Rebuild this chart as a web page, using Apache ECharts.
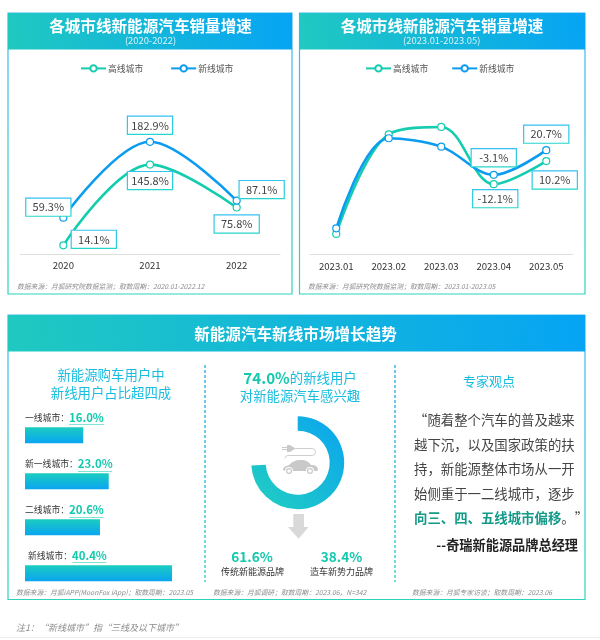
<!DOCTYPE html>
<html>
<head>
<meta charset="utf-8">
<style>
  html, body { margin: 0; padding: 0; background: #fff; }
  #main { width: 600px; height: 640px; }
</style>
<script src="https://cdn.jsdelivr.net/npm/echarts@6/dist/echarts.min.js"></script>
</head>
<body>
<div id="main"></div>
<script>
// yearly growth
var years = ['2020', '2021', '2022'];
var yearHigh = [14.1, 145.8, 75.8];
var yearNew = [59.3, 182.9, 87.1];
// monthly growth, only the last two months are printed in the source
var months = ['2023.01', '2023.02', '2023.03', '2023.04', '2023.05'];
var monthHigh = [-60.1, 36.0, 43.1, -12.1, 10.2];
var monthNew = [-54.7, 32.2, 24.1, -3.1, 20.7];
// share of new energy car buyers
var cityTiers = ['一线城市', '新一线城市', '二线城市', '新线城市'];
var cityShare = [16.0, 23.0, 20.6, 40.4];
var interest = [74.0, 26.0];
var seriesNames = ['高线城市', '新线城市'];

// label box offsets from their points
var yearHighOffset = [[30.5, -6], [0, 16], [0, 16.5]];
var yearNewOffset = [[-15, -10.5], [0, -16.5], [25, -11]];
var monthHighOffset = [null, null, null, [1.5, 14.5], [8.5, 19]];
var monthNewOffset = [null, null, null, [0, -17], [0, -16]];

var FONT = '"Noto Sans CJK SC", "Noto Sans", sans-serif';
var TEAL = '#14cdb0';
var BLUE = '#0b9cf0';

echarts.graphic.registerShape('plugIcon', echarts.graphic.extendPath(
  'M282 447h5v-2h3l3 2h1v3h-1l-3 2h-3v-2h-5v-1h5v-1h-5z'));
echarts.graphic.registerShape('cordIcon', echarts.graphic.extendPath(
  'M293 448.5h19a3.5 3.5 0 0 1 0 7h-24a3 3 0 0 0 -3 3'));
echarts.graphic.registerShape('carIcon', echarts.graphic.extendPath(
  'M283 470c0-3 3-4 6-5c3-3 6-5 12-5c5 0 8 2 10 5c4 0 7 1 7 5l-1 1h-3a4 4 0 0 0 -8 0h-13a4 4 0 0 0 -8 0z'));

function grad(x, y, x2, y2, c1, c2) {
  return new echarts.graphic.LinearGradient(x, y, x2, y2, [
    { offset: 0, color: c1 }, { offset: 1, color: c2 }
  ]);
}

function pointData(values, offsets) {
  return values.map(function (v, i) {
    var o = offsets[i];
    if (!o) return { value: v, label: { show: false } };
    return { value: v, label: { show: true, offset: o } };
  });
}

function lineSeries(name, values, offsets, color, idx) {
  return {
    type: 'line',
    name: name,
    xAxisIndex: idx,
    yAxisIndex: idx,
    smooth: 0.35,
    symbol: 'circle',
    symbolSize: 7,
    showSymbol: true,
    animation: false,
    data: pointData(values, offsets),
    lineStyle: { color: color, width: 2.6 },
    itemStyle: { color: '#fff', borderColor: color, borderWidth: 1.2 },
    label: {
      position: 'inside',
      align: 'center',
      verticalAlign: 'middle',
      width: 44,
      height: 17,
      lineHeight: 17,
      fontFamily: FONT,
      fontSize: 11,
      color: '#444',
      backgroundColor: '#fff',
      borderWidth: 1.2,
      borderColor: grad(0, 0, 0, 1, '#35c0f2', '#25d6cc'),
      formatter: function (p) { return p.value.toFixed(1) + '%'; }
    }
  };
}

function text(x, y, str, size, color, extra) {
  var style = {
    x: x, y: y, text: str, fontSize: size, fill: color, fontFamily: FONT,
    align: 'center', verticalAlign: 'middle'
  };
  for (var k in extra) style[k] = extra[k];
  return { type: 'text', silent: true, style: style };
}

function panel(x, y, w, h, headH, title, titleX, titleY) {
  return [
    { type: 'rect', silent: true, shape: { x: x, y: y, width: w, height: h },
      style: { fill: '#fff', stroke: grad(0, 0, 0, 1, '#3db8f0', '#2ed3bf'), lineWidth: 1.2 } },
    { type: 'rect', silent: true, shape: { x: x, y: y, width: w, height: headH },
      style: { fill: grad(0, 1, 1, 0, '#20c9c0', '#06a4f4') } },
    text(titleX, titleY, title, 15.6, '#fff', { fontWeight: 'bold' })
  ];
}

function footnote(x, y, str, size) {
  return text(x, y, str, size || 6.8, '#8c8c8c', { align: 'left', fontStyle: 'italic' });
}

function dashed(x) {
  return { type: 'line', silent: true, shape: { x1: x, y1: 365, x2: x, y2: 582 },
    style: { stroke: grad(0, 0, 0, 1, '#3fb1ee', '#3fd6c6'), lineWidth: 1.5, lineDash: [3, 2] } };
}

function underline(x1, x2, y) {
  return { type: 'line', silent: true, shape: { x1: x1, y1: y, x2: x2, y2: y },
    style: { stroke: '#7fe3d5', lineWidth: 1 } };
}

var graphics = []
  .concat(panel(8, 13, 284, 281, 36.5, '各城市线新能源汽车销量增速', 150.5, 26))
  .concat(panel(299.5, 13, 285.5, 281, 36.5, '各城市线新能源汽车销量增速', 442, 26))
  .concat(panel(8, 315, 577, 284.5, 36.5, '新能源汽车新线市场增长趋势', 295.5, 334))
  .concat([
    text(150.5, 40.7, '(2020-2022)', 9.4, '#d8f3fb'),
    text(441.7, 40.7, '(2023.01-2023.05)', 9.4, '#d8f3fb'),
    footnote(17, 286, '数据来源：月狐研究院数据监测；取数周期：2020.01-2022.12'),
    footnote(308, 286, '数据来源：月狐研究院数据监测；取数周期：2023.01-2023.05'),
    footnote(16, 592, '数据来源：月狐iAPP(MoonFox iApp)；取数周期：2023.05'),
    footnote(213, 592, '数据来源：月狐调研；取数周期：2023.06，N=342'),
    footnote(412, 592, '数据来源：月狐专家访谈；取数周期：2023.06'),
    footnote(16, 628, '注1：“新线城市”指“三线及以下城市”', 9),
    { type: 'line', silent: true, shape: { x1: 0, y1: 637.5, x2: 600, y2: 637.5 },
      style: { stroke: '#eeeeee', lineWidth: 1 } },
    dashed(205), dashed(395),

    text(111, 375, '新能源购车用户中', 13.4, '#18bde0'),
    text(111, 393, '新线用户占比超四成', 13.4, '#18bde0'),

    // underlines below the share values
    underline(69, 104, 424.5),
    underline(78, 112, 471.5),
    underline(69, 103.5, 517.5),
    underline(72.5, 106.5, 562.5),

    {
      type: 'text', silent: true,
      style: {
        x: 300, y: 378, align: 'center', verticalAlign: 'middle', fontFamily: FONT,
        text: '{a|74.0%}{b|的新线用户}',
        rich: {
          a: { fontFamily: FONT, fontSize: 15.2, fontWeight: 'bold', fill: '#14c9ae' },
          b: { fontFamily: FONT, fontSize: 13.4, fill: '#18bde0' }
        }
      }
    },
    text(300, 396, '对新能源汽车感兴趣', 13.4, '#18bde0'),

    // plug and car in the middle of the ring
    { type: 'plugIcon', silent: true, style: { fill: '#c9c9c9' } },
    { type: 'cordIcon', silent: true, style: { fill: 'none', stroke: '#c9c9c9', lineWidth: 0.9 } },
    { type: 'carIcon', silent: true, style: { fill: '#c9c9c9' } },
    { type: 'circle', silent: true, shape: { cx: 289, cy: 471, r: 2.4 }, style: { fill: '#fff', stroke: '#c9c9c9', lineWidth: 1.2 } },
    { type: 'circle', silent: true, shape: { cx: 310, cy: 471, r: 2.4 }, style: { fill: '#fff', stroke: '#c9c9c9', lineWidth: 1.2 } },
    // down arrow
    { type: 'polygon', silent: true,
      shape: { points: [[293.3, 514], [304, 514], [304, 527], [308.7, 527], [298.6, 538.7], [288, 527], [293.3, 527]] },
      style: { fill: '#d9d9d9' } },

    text(252, 557, '61.6%', 13.6, '#14c9ae', { fontWeight: 'bold' }),
    text(252.5, 571.5, '传统新能源品牌', 9, '#333'),
    text(341.5, 557, '38.4%', 13.6, '#14c9ae', { fontWeight: 'bold' }),
    text(341.5, 571.5, '造车新势力品牌', 9, '#333'),

    text(489, 381, '专家观点', 13, '#18bde0'),
    text(414, 420, '“随着整个汽车的普及越来', 13.4, '#444', { align: 'left' }),
    text(414, 445, '越下沉，以及国家政策的扶', 13.4, '#444', { align: 'left' }),
    text(414, 469, '持，新能源整体市场从一开', 13.4, '#444', { align: 'left' }),
    text(414, 494, '始侧重于一二线城市，逐步', 13.4, '#444', { align: 'left' }),
    {
      type: 'text', silent: true,
      style: {
        x: 414, y: 518, align: 'left', verticalAlign: 'middle', fontFamily: FONT,
        text: '{a|向三、四、五线城市偏移}{b|。”}',
        rich: {
          a: { fontFamily: FONT, fontSize: 13.4, fontWeight: 'bold', fill: '#149a88' },
          b: { fontFamily: FONT, fontSize: 13.4, fill: '#444' }
        }
      }
    },
    text(578, 545, '--奇瑞新能源品牌总经理', 13.2, '#222', { align: 'right', fontWeight: 'bold' })
  ]);

var chart = echarts.init(document.getElementById('main'), null, { renderer: 'canvas' });

function catAxis(data, idx, size) {
  return {
    type: 'category',
    gridIndex: idx,
    data: data,
    axisLine: { onZero: false, lineStyle: { color: '#dedede', width: 1 } },
    axisTick: { show: false },
    axisLabel: { fontFamily: FONT, fontSize: size, color: '#333', margin: 7, interval: 0 }
  };
}

function legendFor(left, gap) {
  return {
    left: left,
    top: 64,
    padding: 0,
    itemWidth: 25,
    itemHeight: 8,
    itemGap: gap,
    selectedMode: false,
    data: seriesNames,
    textStyle: { fontFamily: FONT, fontSize: 8.8, color: '#555', padding: [0, 0, 0, -3] }
  };
}

chart.setOption({
  backgroundColor: '#fff',
  animation: false,
  graphic: { elements: graphics },
  legend: [legendFor(80, 27), legendFor(365, 23)],
  grid: [
    { left: 20, width: 260, top: 70, height: 184 },
    { left: 310, width: 262.5, top: 68, height: 186.5 },
    { left: 25, width: 182, top: 412.3, height: 184 }
  ],
  xAxis: [
    catAxis(years, 0, 9.6),
    catAxis(months, 1, 9.6),
    { type: 'value', gridIndex: 2, min: 0, max: 50, show: false }
  ],
  yAxis: [
    { type: 'value', gridIndex: 0, min: 0, max: 300, show: false },
    { type: 'value', gridIndex: 1, min: -80, max: 100, show: false },
    { type: 'category', gridIndex: 2, data: cityTiers, inverse: true, show: false }
  ],
  series: [
    lineSeries(seriesNames[0], yearHigh, yearHighOffset, TEAL, 0),
    lineSeries(seriesNames[1], yearNew, yearNewOffset, BLUE, 0),
    lineSeries(seriesNames[0], monthHigh, monthHighOffset, TEAL, 1),
    lineSeries(seriesNames[1], monthNew, monthNewOffset, BLUE, 1),
    {
      type: 'bar',
      xAxisIndex: 2,
      yAxisIndex: 2,
      barWidth: 16,
      silent: true,
      data: cityShare.map(function (v, i) {
        return { value: v, label: i === 3 ? { position: [3, -15.5] } : {} };
      }),
      itemStyle: { color: grad(0, 0, 0, 1, '#1bcdbf', '#0aa4f2') },
      label: {
        show: true,
        position: [0, -15.5],
        fontFamily: FONT,
        formatter: function (p) {
          return '{n|' + cityTiers[p.dataIndex] + '：}{v|' + p.value.toFixed(1) + '%}';
        },
        rich: {
          n: { fontFamily: FONT, fontSize: 8.8, color: '#333' },
          v: { fontFamily: FONT, fontSize: 11.4, fontWeight: 'bold', color: '#14c9ae' }
        }
      }
    },
    {
      type: 'pie',
      center: [297.7, 462.7],
      radius: [32, 46.5],
      startAngle: 90,
      clockwise: true,
      silent: true,
      label: { show: false },
      labelLine: { show: false },
      data: [
        { value: interest[0], itemStyle: { color: grad(1, 0, 0, 1, '#0aa4f0', '#22cfc0') } },
        { value: interest[1], itemStyle: { color: 'transparent' } }
      ]
    }
  ]
});
</script>
</body>
</html>
